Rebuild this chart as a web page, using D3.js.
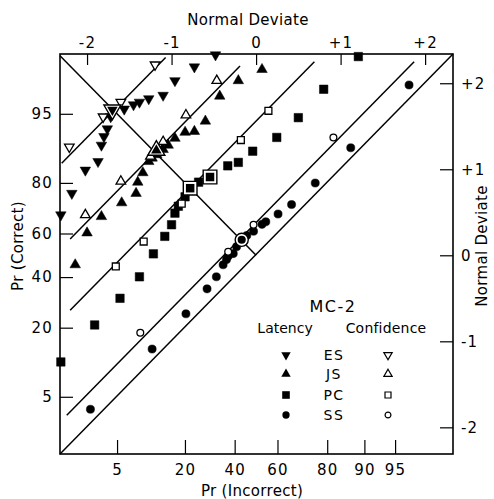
<!DOCTYPE html>
<html><head><meta charset="utf-8">
<script src="https://cdn.jsdelivr.net/npm/d3@7"></script>
<style>body{margin:0;background:#fff}</style>
</head><body>
<svg id="c" width="494" height="499"></svg>
<script>
// ---------- data (normal deviates: [z(incorrect), z(correct)]) ----------
const conditions = ["ES", "JS", "PC", "SS"];
const zTicks = [-2, -1, 0, 1, 2];
const zTickLabels = ["-2", "-1", "0", "+1", "+2"];
const probTicksX = [5, 20, 40, 60, 80, 90, 95];
const probTicksY = [5, 20, 40, 60, 80, 95];
// unit-slope ROC lines: z(correct) = z(incorrect) + offset
const rocOffset = [3.37, 2.39, 1.56, 0.38];
const rocStartX = [-2.30, -2.20, -2.20, -2.24];
const rocEndY = [2.30, 2.20, 2.25, 2.25];

const esLatency = [[-0.48,2.33],[-0.73,2.19],[-0.96,2.03],[-1.10,1.86],[-1.27,1.82],[-1.38,1.78],[-1.45,1.75],[-1.56,1.70],[-1.70,1.67],[-1.72,1.61],[-1.76,1.47],[-1.80,1.38],[-1.83,1.28],[-1.87,1.09],[-2.02,0.99],[-2.18,0.72],[-2.31,0.47]];
const esConfidence = [[-1.195,2.215],[-1.60,1.78],[-1.81,1.61],[-2.21,1.26]];
const jsLatency = [[0.07,2.16],[-0.21,2.03],[-0.43,1.85],[-0.60,1.56],[-0.73,1.44],[-0.84,1.43],[-0.96,1.36],[-1.04,1.28],[-1.10,1.23],[-1.175,1.17],[-1.23,1.13],[-1.27,1.09],[-1.34,0.96],[-1.40,0.85],[-1.42,0.72],[-1.59,0.61],[-1.83,0.45],[-2.00,0.26],[-2.14,-0.11]];
const jsConfidence = [[-0.465,2.03],[-0.83,1.63],[-1.10,1.32],[-1.25,1.15],[-1.60,0.86],[-2.02,0.47]];
const pcLatency = [[1.21,2.31],[0.80,1.93],[0.50,1.60],[0.245,1.37],[-0.04,1.21],[-0.21,1.08],[-0.335,1.04],[-0.68,0.85],[-0.84,0.68],[-0.92,0.57],[-0.96,0.49],[-1.00,0.355],[-1.08,0.22],[-1.215,0.017],[-1.38,-0.25],[-1.61,-0.50],[-1.91,-0.81],[-2.31,-1.24]];
const pcConfidence = [[0.146,1.68],[-0.18,1.34],[-0.88,0.60],[-1.33,0.16],[-1.66,-0.13]];
const ssLatency = [[1.81,1.98],[1.12,1.25],[0.70,0.84],[0.42,0.59],[0.26,0.48],[0.115,0.39],[0.07,0.36],[-0.03,0.28],[-0.11,0.23],[-0.23,0.10],[-0.27,0.02],[-0.33,-0.01],[-0.35,-0.05],[-0.39,-0.11],[-0.47,-0.25],[-0.58,-0.39],[-0.83,-0.68],[-1.23,-1.09],[-1.96,-1.79]];
const ssConfidence = [[0.915,1.37],[-0.03,0.355],[-0.33,0.04],[-1.37,-0.90]];
// combined (latency + confidence coincide) points, drawn enlarged
const esCombined = [[-1.70,1.69]];
const jsCombined = [[-1.18,1.22]];
const pcCombined = [[-0.545,0.91],[-0.78,0.78]];
const ssCombined = [[-0.17,0.18]];

// ---------- helpers ----------
function probit(p) {
  const a=[-39.69683028665376,220.9460984245205,-275.9285104469687,138.3577518672690,-30.66479806614716,2.506628277459239];
  const b=[-54.47609879822406,161.5858368580409,-155.6989798598866,66.80131188771972,-13.28068155211877];
  const c=[-0.007784894002430293,-0.3223964580411365,-2.400758277161838,-2.549732539343734,4.374664141464968,2.938163982698783];
  const d=[0.007784695709041462,0.3224671290700398,2.445134137142996,3.754408661907416];
  const pl=0.02425;
  let q,r;
  if(p<pl){q=Math.sqrt(-2*Math.log(p));return (((((c[0]*q+c[1])*q+c[2])*q+c[3])*q+c[4])*q+c[5])/((((d[0]*q+d[1])*q+d[2])*q+d[3])*q+1);}
  if(p>1-pl){q=Math.sqrt(-2*Math.log(1-p));return -(((((c[0]*q+c[1])*q+c[2])*q+c[3])*q+c[4])*q+c[5])/((((d[0]*q+d[1])*q+d[2])*q+d[3])*q+1);}
  q=p-0.5;r=q*q;
  return (((((a[0]*r+a[1])*r+a[2])*r+a[3])*r+a[4])*r+a[5])*q/(((((b[0]*r+b[1])*r+b[2])*r+b[3])*r+b[4])*r+1);
}

const svg = d3.select("#c");
const FONT = "'DejaVu Sans', 'Liberation Sans', sans-serif";
const L = 60, R = 453, T = 54, B = 454;
const x = d3.scaleLinear().domain([-2.32, 2.33]).range([L, R]);
const y = d3.scaleLinear().domain([-2.31, 2.34]).range([B, T]);

// frame
svg.append("rect").attr("x", L).attr("y", T).attr("width", R-L).attr("height", B-T)
  .attr("fill", "none").attr("stroke", "#000").attr("stroke-width", 1.6);

// axes via d3 axis generators (ticks drawn inward)
const topAx = d3.axisTop(x).tickValues(zTicks).tickFormat((d,i)=>zTickLabels[i]).tickSizeInner(-11).tickSizeOuter(0).tickPadding(6);
const rightAx = d3.axisRight(y).tickValues(zTicks).tickFormat((d,i)=>zTickLabels[i]).tickSizeInner(-13).tickSizeOuter(0).tickPadding(8);
const botAx = d3.axisBottom(x).tickValues(probTicksX.map(p=>probit(p/100))).tickFormat((d,i)=>probTicksX[i]).tickSizeInner(-14).tickSizeOuter(0).tickPadding(10);
const leftAx = d3.axisLeft(y).tickValues(probTicksY.map(p=>probit(p/100))).tickFormat((d,i)=>probTicksY[i]).tickSizeInner(-13).tickSizeOuter(0).tickPadding(7);

function styleAxis(g) {
  g.select(".domain").remove();
  g.selectAll(".tick line").attr("stroke", "#000").attr("stroke-width", 1.2);
  g.selectAll(".tick text").attr("fill", "#000").style("font-family", FONT).style("font-size", "15px").style("letter-spacing", "1.2px");
}
svg.append("g").attr("transform", `translate(0,${T})`).call(topAx).call(styleAxis);
svg.append("g").attr("transform", `translate(${R},0)`).call(rightAx).call(styleAxis);
svg.append("g").attr("transform", `translate(0,${B})`).call(botAx).call(styleAxis);
svg.append("g").attr("transform", `translate(${L},0)`).call(leftAx).call(styleAxis);

// axis titles
const ttl = (txt, tx, ty, rot) => svg.append("text").text(txt)
  .attr("transform", `translate(${tx},${ty}) rotate(${rot})`).attr("text-anchor", "middle")
  .style("font-family", FONT).style("font-size", "15px").style("letter-spacing", "0.3px").attr("fill", "#000");
ttl("Normal Deviate", 248, 25, 0);
ttl("Pr (Incorrect)", 252, 496, 0);
ttl("Pr (Correct)", 23, 246, -90);
ttl("Normal Deviate", 487, 246, -90);

// reference lines
const linesG = svg.append("g").attr("stroke", "#000").attr("stroke-width", 1.5).attr("fill", "none");
const line = d3.line().x(d=>x(d[0])).y(d=>y(d[1]));
// chance diagonal (corner to corner)
linesG.append("path").attr("d", line([[x.domain()[0], y.domain()[0]], [x.domain()[1], y.domain()[1]]]));
// negative diagonal from upper-left corner to the centre
linesG.append("path").attr("d", line([[x.domain()[0], -x.domain()[0]], [0, 0]]));
conditions.forEach((c,i)=>{
  const d0 = rocOffset[i];
  linesG.append("path").attr("d", line([[rocStartX[i], rocStartX[i]+d0], [rocEndY[i]-d0, rocEndY[i]]]));
});

// symbols
const symType = {down: d3.symbolTriangle, up: d3.symbolTriangle, square: d3.symbolSquare, circle: d3.symbolCircle};
function drawPoints(data, kind, filled, size) {
  const g = svg.append("g");
  g.selectAll("path").data(data).join("path")
    .attr("d", d3.symbol().type(symType[kind]).size(size))
    .attr("transform", d=>`translate(${x(d[0])},${y(d[1])})${kind==="down"?" rotate(180)":""}`)
    .attr("fill", filled ? "#000" : "#fff")
    .attr("stroke", "#000").attr("stroke-width", filled ? 0.5 : 1.3);
}
const kinds = ["down", "up", "square", "circle"];
const latSize = {down: 48, up: 48, square: 72, circle: 52};
const confSize = {down: 40, up: 40, square: 48, circle: 36};
const latencyData = [esLatency, jsLatency, pcLatency, ssLatency];
const confData = [esConfidence, jsConfidence, pcConfidence, ssConfidence];
const combData = [esCombined, jsCombined, pcCombined, ssCombined];
kinds.forEach((k,i)=>{
  drawPoints(latencyData[i], k, true, latSize[k]);
  drawPoints(confData[i], k, false, confSize[k]);
});
// combined points: filled symbol with enlarged open outline
kinds.forEach((k,i)=>{
  const g = svg.append("g");
  g.selectAll("path.o").data(combData[i]).join("path").attr("class","o")
    .attr("d", d3.symbol().type(symType[k]).size(latSize[k]*2.6))
    .attr("transform", d=>`translate(${x(d[0])},${y(d[1])})${k==="down"?" rotate(180)":""}`)
    .attr("fill", "#fff").attr("stroke", "#000").attr("stroke-width", 1.4);
  g.selectAll("path.f").data(combData[i]).join("path").attr("class","f")
    .attr("d", d3.symbol().type(symType[k]).size(latSize[k]))
    .attr("transform", d=>`translate(${x(d[0])},${y(d[1])})${k==="down"?" rotate(180)":""}`)
    .attr("fill", "#000");
});

// legend
const lg = svg.append("g").style("font-family", FONT).attr("fill", "#000");
lg.append("text").text("MC-2").attr("x", 333).attr("y", 312).attr("text-anchor", "middle").style("font-size", "16px").style("letter-spacing", "1.5px");
lg.append("text").text("Latency").attr("x", 285).attr("y", 333).attr("text-anchor", "middle").style("font-size", "14px");
lg.append("text").text("Confidence").attr("x", 386).attr("y", 333).attr("text-anchor", "middle").style("font-size", "14px").style("letter-spacing", "0.2px");
const rowY = [355, 374, 395, 415];
conditions.forEach((c,i)=>{
  const k = kinds[i];
  lg.append("path").attr("d", d3.symbol().type(symType[k]).size(latSize[k]*0.8)())
    .attr("transform", `translate(286,${rowY[i]})${k==="down"?" rotate(180)":""}`).attr("fill", "#000");
  lg.append("path").attr("d", d3.symbol().type(symType[k]).size(confSize[k]*0.75)())
    .attr("transform", `translate(388,${rowY[i]})${k==="down"?" rotate(180)":""}`)
    .attr("fill", "#fff").attr("stroke", "#000").attr("stroke-width", 1.2);
  lg.append("text").text(c).attr("x", 334).attr("y", rowY[i]+5).attr("text-anchor", "middle")
    .style("font-size", "14px").style("letter-spacing", "1.5px");
});
</script>
</body></html>
